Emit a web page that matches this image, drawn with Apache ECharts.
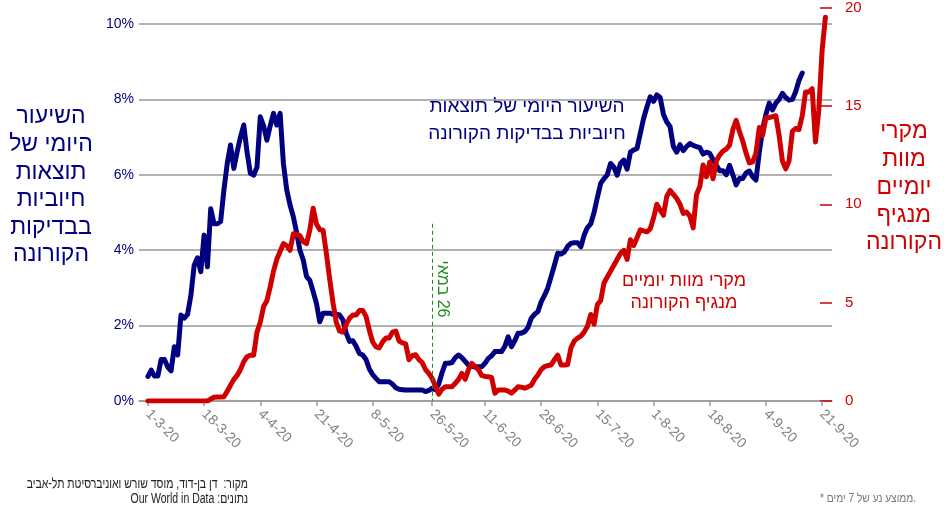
<!DOCTYPE html>
<html>
<head>
<meta charset="utf-8">
<script src="https://cdn.jsdelivr.net/npm/echarts@6/dist/echarts.min.js"></script>
<style>html,body{margin:0;padding:0;background:#fff}#c{width:944px;height:508px}</style>
</head>
<body>
<div id="c"></div>
<script>
// Day index 0 = 1-3-20
const tickDays = [0,17,34,51,68,86,102,119,136,153,170,187,204];
const tickLabels = ['1-3-20','18-3-20','4-4-20','21-4-20','8-5-20','26-5-20','11-6-20','28-6-20','15-7-20','1-8-20','18-8-20','4-9-20','21-9-20'];
const leftTicks = [0,2,4,6,8,10];
const rightTicks = [0,5,10,15,20];

// Daily positive-test rate (%), days 0..198
const posRate = [0.65,0.82,0.66,0.66,1.1,1.1,0.9,0.8,1.44,1.22,2.28,2.2,2.3,2.8,3.6,3.8,3.43,4.4,3.56,5.1,
4.7,4.7,4.76,5.6,6.3,6.79,6.17,6.61,7.0,7.32,6.6,6.04,5.99,6.2,7.54,7.3,6.92,7.3,7.63,7.32,
7.63,6.3,5.6,5.2,4.89,4.47,4.0,3.74,3.3,3.2,2.9,2.59,2.1,2.33,2.33,2.33,2.3,2.3,2.28,2.15,
1.8,1.58,1.6,1.45,1.26,1.22,1.1,0.85,0.7,0.6,0.51,0.51,0.51,0.51,0.45,0.35,0.31,0.3,0.29,0.29,
0.29,0.29,0.29,0.29,0.25,0.28,0.34,0.3,0.45,0.75,1.0,1.0,1.02,1.15,1.22,1.15,1.05,0.95,0.92,0.9,
0.91,0.91,1.0,1.13,1.2,1.31,1.31,1.31,1.45,1.7,1.44,1.6,1.8,1.8,1.84,1.95,2.2,2.3,2.37,2.63,
2.8,3.0,3.3,3.6,3.92,3.9,3.95,4.1,4.18,4.2,4.2,4.09,4.4,4.6,4.7,5.0,5.4,5.77,5.9,6.0,
6.3,6.2,5.99,6.3,6.39,6.15,6.6,6.66,6.7,7.1,7.5,7.8,8.07,7.95,8.12,8.05,7.6,7.4,7.28,6.75,
6.6,6.8,6.64,6.75,6.83,6.78,6.75,6.72,6.55,6.6,6.57,6.4,6.25,6.11,6.11,6.0,6.25,6.0,5.73,5.9,
5.9,6.05,6.1,5.95,5.86,6.6,7.2,7.6,7.9,7.72,7.9,8.0,8.16,8.05,7.98,8.0,8.2,8.5,8.7];

// Daily deaths (7-day avg), days 0..205
const deaths = [0,0,0,0,0,0,0,0,0,0,0,0,0,0,0,0,0,0,0,0.1,
0.19,0.2,0.2,0.22,0.5,0.8,1.1,1.3,1.6,2.0,2.25,2.33,2.33,3.5,4.0,4.8,5.1,5.8,6.6,7.2,
7.6,8.0,7.9,7.66,8.5,8.45,8.4,8.1,8.0,8.7,9.8,9.0,8.7,8.68,7.5,6.2,5.0,4.0,3.55,3.5,
3.9,4.2,4.37,4.37,4.6,4.6,4.3,3.6,3.0,2.75,2.7,3.0,3.2,3.2,3.5,3.55,3.05,2.95,2.9,2.1,
2.3,2.35,2.1,1.95,1.6,1.4,1.15,0.75,0.35,0.6,0.73,0.73,0.73,0.9,1.1,1.4,1.1,1.6,1.91,1.75,
1.6,1.3,1.25,1.23,1.2,0.39,0.56,0.56,0.56,0.5,0.4,0.55,0.73,0.7,0.65,0.72,0.8,1.1,1.32,1.6,
1.75,1.8,1.83,2.1,2.33,1.83,1.83,1.85,2.7,3.05,3.2,3.3,3.5,3.8,4.4,3.9,4.9,5.1,6.0,6.3,
6.6,6.9,7.2,7.5,7.66,7.2,8.2,7.9,8.3,8.7,8.65,8.6,8.75,9.3,10.0,9.7,9.44,10.4,10.7,10.5,
10.3,10.0,9.53,9.6,9.4,8.8,10.5,10.9,12.0,11.4,12.15,11.3,12.2,12.5,12.7,12.8,13.0,13.8,14.26,13.7,
13.2,12.6,12.1,12.15,12.6,13.9,13.5,14.4,14.4,14.45,14.5,13.5,12.2,11.8,12.2,13.7,13.85,13.8,14.5,15.7,
15.7,15.87,13.16,14.77,17.8,19.5];

const annotationDay = 86;
const annotationTop = 4.7;

const NAVY = '#000080', RED = '#d10000', GREEN = '#1e8c1e', GRAY = '#999999';
const FONT = '"Liberation Sans", Arial, "DejaVu Sans", sans-serif';

const chart = echarts.init(document.getElementById('c'), null, {renderer: 'canvas'});
const GL = 139, GR = 112, GB = 107;
const xBase = {
  type: 'value', min: -2.7, max: 207
};
chart.setOption({
  animation: false,
  backgroundColor: '#fff',
  grid: [
    {left: GL, right: GR, top: 24, bottom: GB},
    {left: GL, right: GR, top: 7, bottom: GB}
  ],
  xAxis: [
    Object.assign({}, xBase, {
      gridIndex: 0,
      axisLine: {show: true, onZero: false, lineStyle: {color: GRAY, width: 1.5}},
      axisTick: {show: true, length: 5, lineStyle: {color: GRAY, width: 1.5}, customValues: tickDays},
      axisLabel: {
        show: true, rotate: -45, margin: 11, color: '#808080', fontSize: 14, fontFamily: FONT,
        customValues: tickDays,
        formatter: v => { const i = tickDays.indexOf(Math.round(v)); return i >= 0 ? tickLabels[i] : ''; }
      },
      splitLine: {show: false}
    }),
    Object.assign({}, xBase, {
      gridIndex: 1, show: false, axisLine: {onZero: false}, splitLine: {show: false}
    })
  ],
  yAxis: [
    {
      type: 'value', gridIndex: 0, position: 'left', min: 0, max: 10, interval: 2,
      axisLine: {show: false, onZero: false},
      axisTick: {show: false},
      axisLabel: {color: NAVY, fontSize: 14, fontFamily: FONT, margin: 5, formatter: v => v + '%'},
      splitLine: {show: true, lineStyle: {color: GRAY, width: 1.5}}
    },
    {
      type: 'value', gridIndex: 1, position: 'right', min: 0, max: 20, interval: 5,
      axisLine: {show: false, onZero: false},
      axisTick: {show: true, inside: true, length: 12, lineStyle: {color: RED, width: 1.5}},
      axisLabel: {color: RED, fontSize: 15, fontFamily: FONT, margin: 13},
      splitLine: {show: false}
    }
  ],
  series: [
    {
      type: 'line', xAxisIndex: 0, yAxisIndex: 0, z: 2,
      data: posRate.map((v, i) => [i, v]),
      showSymbol: false, symbol: 'none',
      lineStyle: {color: NAVY, width: 5, join: 'round', cap: 'round'},
      markLine: {
        silent: true, symbol: 'none', animation: false,
        label: {show: false},
        lineStyle: {color: GREEN, type: [4, 3], width: 1},
        data: [[{coord: [annotationDay, annotationTop]}, {coord: [annotationDay, 0]}]]
      }
    },
    {
      type: 'line', xAxisIndex: 1, yAxisIndex: 1, z: 3,
      data: deaths.map((v, i) => [i, v]),
      showSymbol: false, symbol: 'none',
      lineStyle: {color: RED, width: 5, join: 'round', cap: 'round'}
    }
  ],
  graphic: [
    {type: 'text', x: 51, y: 186, style: {text: 'השיעור\nהיומי של\nתוצאות\nחיוביות\nבבדיקות\nהקורונה', fill: NAVY, font: '23px ' + FONT, textAlign: 'center', textVerticalAlign: 'middle', align: 'center', verticalAlign: 'middle', lineHeight: 27.6}},
    {type: 'text', x: 904, y: 187.5, style: {text: 'מקרי\nמוות\nיומיים\nמנגיף\nהקורונה', fill: RED, font: '23px ' + FONT, textAlign: 'center', textVerticalAlign: 'middle', align: 'center', verticalAlign: 'middle', lineHeight: 27.8}},
    {type: 'text', x: 527, y: 120.5, style: {text: 'השיעור היומי של תוצאות\nחיוביות בבדיקות הקורונה', fill: NAVY, font: '19px ' + FONT, textAlign: 'center', textVerticalAlign: 'middle', align: 'center', verticalAlign: 'middle', lineHeight: 27}},
    {type: 'text', x: 684, y: 292, style: {text: 'מקרי מוות יומיים\nמנגיף הקורונה', fill: RED, font: '18px ' + FONT, textAlign: 'center', textVerticalAlign: 'middle', align: 'center', verticalAlign: 'middle', lineHeight: 22}},
    {type: 'text', x: 442, y: 289, rotation: -Math.PI / 2, style: {text: 'במאי\u200E 26', fill: GREEN, font: '16px ' + FONT, textAlign: 'center', textVerticalAlign: 'middle', align: 'center', verticalAlign: 'middle'}},
    {type: 'text', x: 248, y: 484, scaleX: 0.75, style: {text: 'מקור:  דן בן-דוד, מוסד שורש ואוניברסיטת תל-אביב', fill: '#222', font: '14px ' + FONT, textAlign: 'right', textVerticalAlign: 'middle', align: 'right', verticalAlign: 'middle'}},
    {type: 'text', x: 248, y: 499, scaleX: 0.75, style: {text: 'Our World in Data :נתונים', fill: '#222', font: '14px ' + FONT, textAlign: 'right', textVerticalAlign: 'middle', align: 'right', verticalAlign: 'middle'}},
    {type: 'text', x: 820, y: 499, scaleX: 0.85, style: {text: '* ממוצע נע של 7 ימים.', fill: '#777', font: '12px ' + FONT, textAlign: 'left', textVerticalAlign: 'middle', align: 'left', verticalAlign: 'middle'}}
  ]
});
</script>
</body>
</html>
